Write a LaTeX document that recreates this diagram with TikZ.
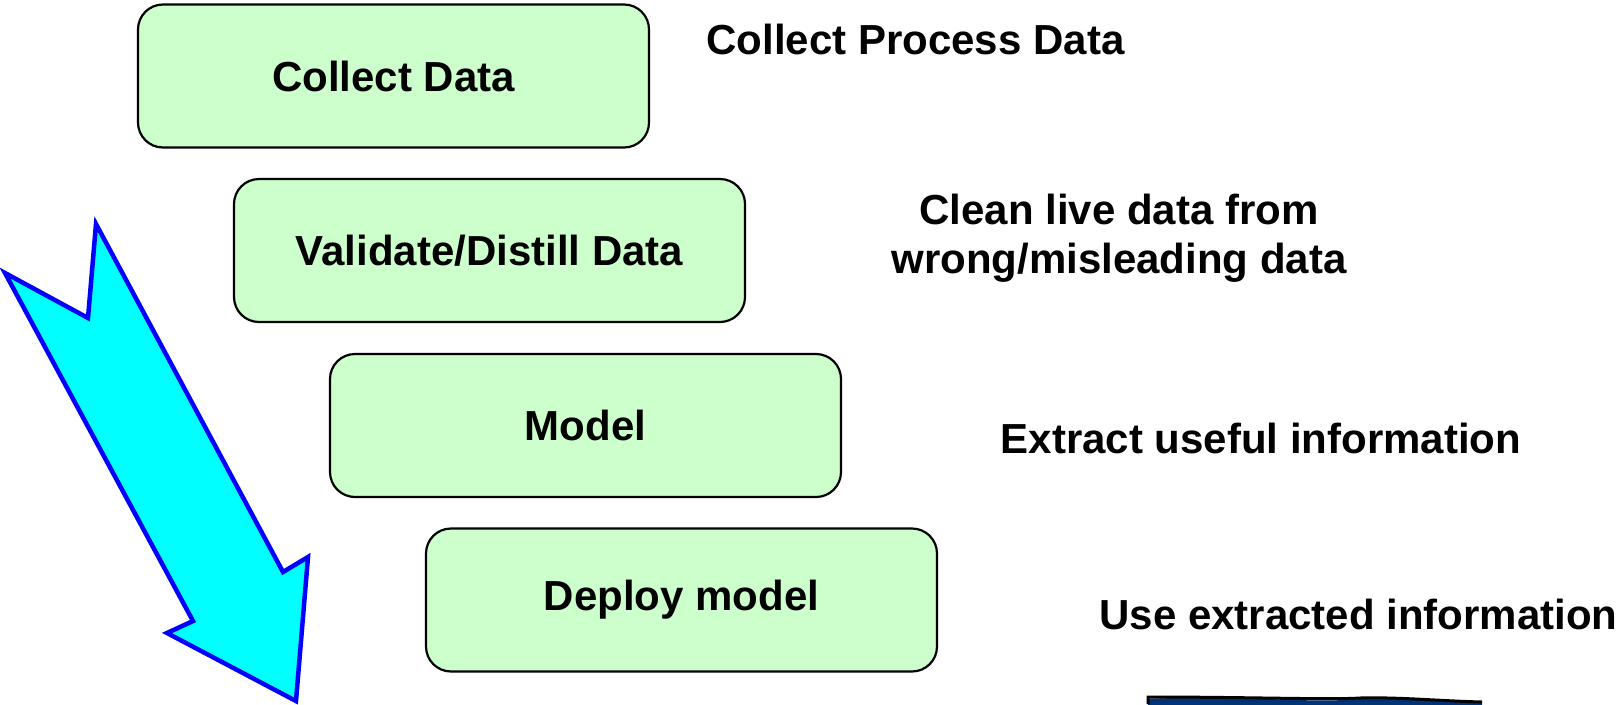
\documentclass[tikz,border=0pt]{standalone}
\usepackage{fontspec}
\setmainfont{Liberation Sans}
\definecolor{boxfill}{HTML}{CCFFCC}
\definecolor{arrowfill}{HTML}{00FFFF}
\definecolor{arrowline}{HTML}{0000FF}
\definecolor{navy}{HTML}{003375}
\begin{document}
\begin{tikzpicture}[x=1pt,y=-1pt,
  stage/.style={draw=black, line width=2.2pt, fill=boxfill, rounded corners=25pt,
    minimum width=511pt, minimum height=143pt, inner sep=0pt,
    font=\fontsize{42}{48.6}\selectfont\bfseries},
  note/.style={align=center, inner sep=0pt,
    font=\fontsize{42}{48.6}\selectfont\bfseries},
  bigarrow/.style={draw=arrowline, fill=arrowfill, line width=4.5pt, line join=miter}]
\useasboundingbox (0,0) rectangle (1621,704);

% process stages
\node[stage] (b1) at (393.5,76)  {Collect Data};
\node[stage] (b2) at (489.5,250.5) {Validate/Distill Data};
\node[stage] (b3) at (585.5,425.5) {Model};
\node[stage] (b4) at (681.5,600) {Deploy model};

% descriptions
\node[note] (t1) at (915.5,39)  {Collect Process Data};
\node[note] (t2) at (1119,238)  {Clean live data from\\wrong/misleading data};
\node[note] (t3) at (1261,438)  {Extract useful information};
\node[note] (t4) at (1358.5,614) {Use extracted information};

% downward flow arrow
\draw[bigarrow] (5,273) -- (88,318) -- (96,224) -- (283,572) -- (308,557)
  -- (296,701) -- (167,633) -- (193,621) -- cycle;

% top edge of the partly visible panel at the bottom
\begin{scope}
  \clip (0,0) rectangle (1621,704);
  \fill[navy] (1148,699) .. controls (1250,694) and (1300,704) .. (1360,699)
    .. controls (1400,696) and (1440,702) .. (1482,703) -- (1482,710) -- (1148,710) -- cycle;
  \draw[black, line width=3pt] (1148,704) -- (1148,697)
    .. controls (1250,697) and (1330,700) .. (1360,698)
    .. controls (1400,697) and (1440,701) .. (1482,702);
\end{scope}
\end{tikzpicture}
\end{document}
